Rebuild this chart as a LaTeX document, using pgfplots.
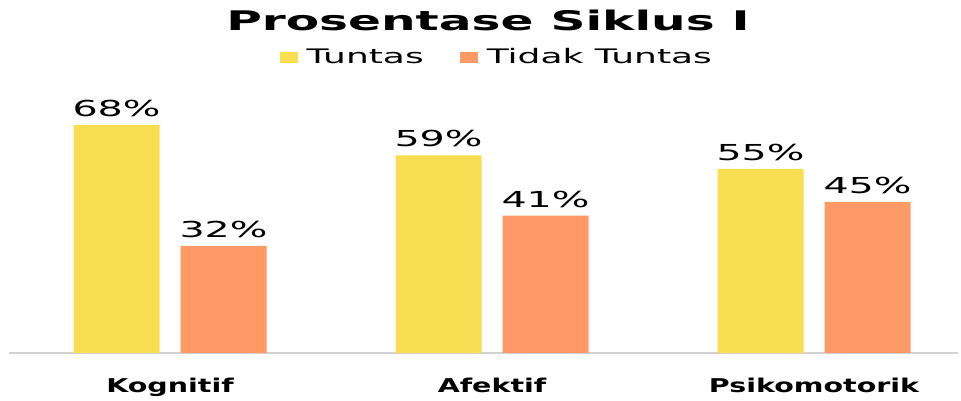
\documentclass[border=0pt]{standalone}
\usepackage{fontspec}
\setmainfont[FakeStretch=1.8]{DejaVu Sans}
\newfontfamily\catfont[FakeStretch=1.5]{DejaVu Sans}
\usepackage{pgfplots}
\pgfplotsset{compat=1.18}
\definecolor{tuntas}{RGB}{249,222,82}
\definecolor{tidak}{RGB}{255,154,102}
\definecolor{axisgray}{RGB}{210,210,210}
\begin{document}
\begin{tikzpicture}
\useasboundingbox (0pt,0pt) rectangle (961pt,401pt);
\node[font=\fontsize{27}{32}\selectfont\bfseries, inner sep=0pt] at (488pt,381pt) {Prosentase Siklus I};
\begin{axis}[
  at={(9pt,48pt)}, anchor=south west,
  scale only axis, width=949pt, height=268pt,
  xmin=-0.5, xmax=2.447, ymin=0, ymax=80,
  ybar=21pt, bar width=86pt,
  axis x line*=bottom, axis y line=none,
  x axis line style={axisgray, line width=1.2pt, -},
  xtick=data, xticklabels={Kognitif,Afektif,Psikomotorik},
  xtick style={draw=none},
  xticklabel style={font=\catfont\bfseries\fontsize{19}{21}\selectfont, inner sep=0pt, yshift=-21pt},
  ytick=\empty,
  /pgf/number format/assume math mode=true,
  nodes near coords={\pgfmathprintnumber{\pgfplotspointmeta}\%},
  nodes near coords style={font=\fontsize{22}{26}\selectfont, inner sep=0pt, anchor=south, yshift=8pt, black},
  legend style={at={(0.514,1.104)}, anchor=center, draw=none, fill=none,
    legend columns=-1, font=\fontsize{20}{24}\selectfont,
    /tikz/every odd column/.append style={column sep=7pt},
    /tikz/every even column/.append style={column sep=34pt}},
  legend image code/.code={\fill[#1] (0pt,-5.5pt) rectangle (18pt,5.5pt);},
  clip=false,
]
\addplot[fill=tuntas, draw=none] coordinates {(0,68) (1,59) (2,55)};
\addplot[fill=tidak, draw=none] coordinates {(0,32) (1,41) (2,45)};
\legend{Tuntas, Tidak Tuntas}
\end{axis}
\end{tikzpicture}
\end{document}
